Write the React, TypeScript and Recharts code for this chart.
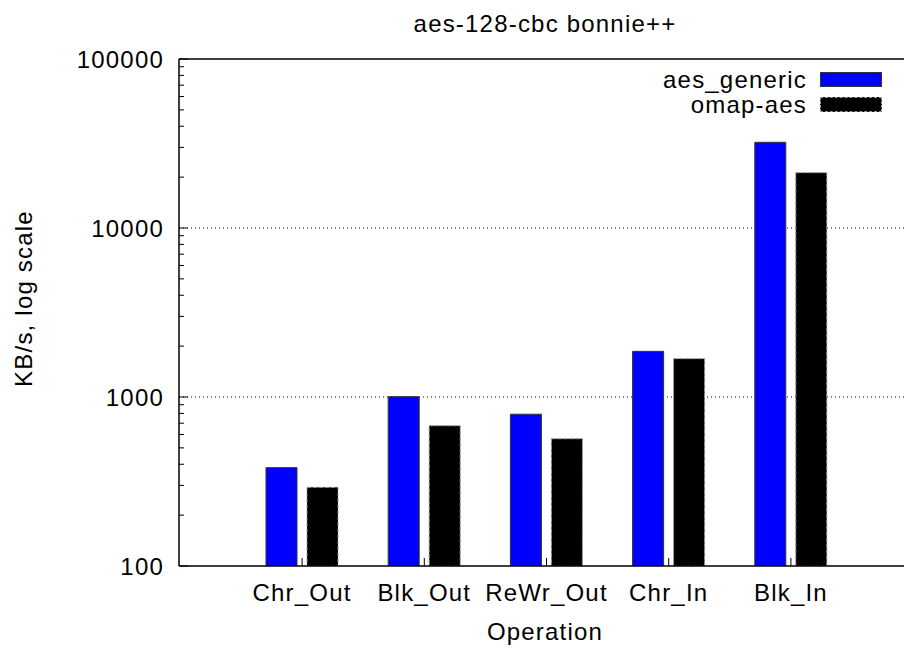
import { BarChart, Bar, XAxis, YAxis, CartesianGrid, ReferenceLine } from 'recharts'

// bonnie++ throughput per operation, KB/s
const CATEGORIES = ['Chr_Out', 'Blk_Out', 'ReWr_Out', 'Chr_In', 'Blk_In']
const AES_GENERIC = [382, 1004, 791, 1863, 32150]
const OMAP_AES = [292, 676, 566, 1686, 21250]

const SERIES = [
  { key: 'aes_generic', name: 'aes_generic', fill: '#0000ff', stroke: '#333', dash: undefined },
  { key: 'omap_aes', name: 'omap-aes', fill: '#000000', stroke: '#999', dash: '4 2' },
]

const Y_MAJOR = [100, 1000, 10000, 100000]
const Y_MINOR = [
  200, 300, 400, 500, 600, 700, 800, 900,
  2000, 3000, 4000, 5000, 6000, 7000, 8000, 9000,
  20000, 30000, 40000, 50000, 60000, 70000, 80000, 90000,
]
const GRID_VALUES = [1000, 10000]

const DATA = CATEGORIES.map((op, i) => ({
  op,
  aes_generic: AES_GENERIC[i],
  omap_aes: OMAP_AES[i],
}))

const FONT = "'Liberation Sans', Arial, sans-serif"
const FS = 24
const LS = 1.2

function YTick(props: any) {
  const { x, y, payload } = props
  const major = Y_MAJOR.includes(payload.value)
  return (
    <g>
      <line x1={x} y1={y} x2={x + (major ? 9 : 5)} y2={y} stroke="#000" strokeWidth={1} />
      {major && (
        <text x={x - 15} y={y} dy="0.36em" textAnchor="end" fontFamily={FONT} fontSize={FS} letterSpacing={LS} fill="#000">
          {payload.value}
        </text>
      )}
    </g>
  )
}

function XTick(props: any) {
  const { x, y, payload } = props
  return (
    <g>
      <line x1={x} y1={y} x2={x} y2={y - 8} stroke="#000" strokeWidth={1} />
      <text x={x} y={y + 35} textAnchor="middle" fontFamily={FONT} fontSize={FS} letterSpacing={LS} fill="#000">
        {payload.value}
      </text>
    </g>
  )
}

function ChartLegend() {
  return (
    <div style={{ position: 'absolute', top: 67, right: 22, display: 'flex', flexDirection: 'column', alignItems: 'flex-end' }}>
      {SERIES.map((s) => (
        <div key={s.key} style={{ display: 'flex', alignItems: 'center', height: 25 }}>
          <span style={{ fontFamily: FONT, fontSize: FS, letterSpacing: LS, color: '#000', marginRight: 13 }}>
            {s.name}
          </span>
          <span
            style={{
              display: 'inline-block',
              width: 60,
              height: 13,
              background: s.fill,
              border: s.dash ? '1px dashed #999' : '1px solid #333',
            }}
          />
        </div>
      ))}
    </div>
  )
}

export default function App() {
  return (
    <div style={{ position: 'absolute', left: 0, top: 0, width: 904, height: 653, overflow: 'hidden', background: '#fff' }}>
      <div
        style={{
          position: 'absolute',
          left: 345,
          top: 10,
          width: 400,
          textAlign: 'center',
          fontFamily: FONT,
          fontSize: FS,
          letterSpacing: LS,
          color: '#000',
        }}
      >
        aes-128-cbc bonnie++
      </div>
      <BarChart
        width={904}
        height={653}
        data={DATA}
        margin={{ top: 59, right: -13, bottom: 0, left: 0 }}
        barSize={31}
        barGap={10}
      >
        <CartesianGrid vertical={false} horizontalValues={GRID_VALUES} stroke="#000" strokeDasharray="1 3" />
        <XAxis
          dataKey="op"
          height={87}
          padding={{ left: 62, right: 65 }}
          axisLine={{ stroke: '#000', strokeWidth: 1.5 }}
          tickLine={false}
          tickSize={0}
          tickMargin={0}
          interval={0}
          tick={<XTick />}
          label={{
            content: ({ viewBox }: any) => (
              <text
                x={545}
                y={viewBox.y + 74}
                textAnchor="middle"
                fontFamily={FONT}
                fontSize={FS}
                letterSpacing={LS}
                fill="#000"
              >
                Operation
              </text>
            ),
          }}
        />
        <YAxis
          type="number"
          scale="log"
          domain={[100, 100000]}
          allowDataOverflow
          ticks={[...Y_MAJOR, ...Y_MINOR]}
          interval={0}
          width={179}
          axisLine={{ stroke: '#000', strokeWidth: 1.5 }}
          tickLine={false}
          tickSize={0}
          tickMargin={0}
          tick={<YTick />}
          label={{
            content: ({ viewBox }: any) => {
              const cx = viewBox.x + 23
              const cy = viewBox.y + viewBox.height / 2 - 14
              return (
                <text
                  x={cx}
                  y={cy}
                  dy="0.36em"
                  transform={`rotate(-90 ${cx} ${cy})`}
                  textAnchor="middle"
                  fontFamily={FONT}
                  fontSize={FS}
                  letterSpacing={LS}
                  fill="#000"
                >
                  KB/s, log scale
                </text>
              )
            },
          }}
        />
        <ReferenceLine y={100000} stroke="#000" strokeWidth={1.5} />
        {SERIES.map((s) => (
          <Bar
            key={s.key}
            dataKey={s.key}
            name={s.name}
            fill={s.fill}
            stroke={s.stroke}
            strokeDasharray={s.dash}
            strokeWidth={1}
            isAnimationActive={false}
          />
        ))}
      </BarChart>
      <ChartLegend />
    </div>
  )
}
